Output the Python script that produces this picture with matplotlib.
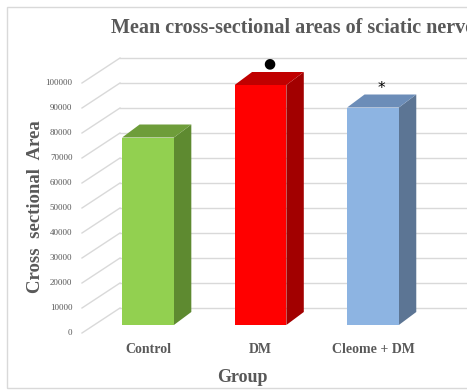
import matplotlib
matplotlib.use("Agg")
import matplotlib.pyplot as plt
from matplotlib.patches import Polygon, Rectangle

# Data
groups = ["Control", "DM", "Cleome + DM"]
mean_area = [75000, 96000, 87000]
markers = ["", "\u25CF", "*"]
tick_values = [0, 10000, 20000, 30000, 40000, 50000, 60000, 70000, 80000, 90000, 100000]

front_colors = ["#92D050", "#FF0000", "#8DB4E2"]
top_colors = ["#6E9D3A", "#C00000", "#6C8DB8"]
side_colors = ["#5E8A30", "#A20000", "#5C7594"]

W, H, DPI = 467, 390, 100
fig = plt.figure(figsize=(W / DPI, H / DPI), dpi=DPI)
ax = fig.add_axes([0, 0, 1, 1])
ax.set_xlim(-1.316, 2.836)
ax.set_ylim(-26000, 130000)
ax.axis("off")

serif = "Liberation Serif"
grey = "#595959"

# oblique projection offsets (x in category units, y in value units)
bar_w = 0.46
bar_depth = (0.155, 5200)
wall_front = (-0.587, -3200)
wall_back = (-0.249, 6800)

# chart frame
ax.add_patch(Rectangle((0.015, 0.005), 1.2, 0.977, transform=ax.transAxes,
                       fill=False, edgecolor="#D9D9D9", lw=1.0, clip_on=False))

# wall gridlines and tick labels
for v in tick_values:
    ax.plot([wall_front[0], wall_back[0]], [v + wall_front[1], v + wall_back[1]],
            color="#D9D9D9", lw=1.0, zorder=1)
    ax.plot([wall_back[0], 3.0], [v + wall_back[1], v + wall_back[1]],
            color="#D9D9D9", lw=1.0, zorder=1)
    ax.text(wall_front[0] - 0.085, v + wall_front[1], str(v), ha="right", va="center",
            fontsize=6.5, family=serif, color=grey)

# 3D bars
for i, (val, fc, tc, sc) in enumerate(zip(mean_area, front_colors, top_colors, side_colors)):
    x0, x1 = i - bar_w / 2, i + bar_w / 2
    dx, dy = bar_depth
    ax.add_patch(Polygon([(x1, 0), (x1 + dx, dy), (x1 + dx, val + dy), (x1, val)],
                         closed=True, facecolor=sc, edgecolor="none", zorder=3))
    ax.add_patch(Polygon([(x0, val), (x1, val), (x1 + dx, val + dy), (x0 + dx, val + dy)],
                         closed=True, facecolor=tc, edgecolor="none", zorder=3))
    ax.add_patch(Rectangle((x0, 0), bar_w, val, facecolor=fc, edgecolor="none", zorder=4))
    if markers[i] == "*":
        ax.text(i + dx / 2, val + dy + 2300, markers[i], ha="center", va="center",
                fontsize=11, color="black", family="DejaVu Sans", zorder=5)
    elif markers[i]:
        ax.text(i + dx / 2, val + dy + 3500, markers[i], ha="center", va="center",
                fontsize=10, color="black", family="DejaVu Sans", zorder=5)
    ax.text(i, -9800, groups[i], ha="center", va="center", fontsize=10,
            fontweight="bold", family=serif, color=grey)

# titles
ax.text(-0.33, 118800, "Mean cross-sectional areas of sciatic nerve", ha="left", va="center",
        fontsize=14.5, fontweight="bold", family=serif, color=grey, clip_on=False)
ax.text(-1.0, 47200, "Cross  sectional  Area", rotation=90, ha="center", va="center",
        fontsize=13.5, fontweight="bold", family=serif, color=grey)
ax.text(0.84, -21000, "Group", ha="center", va="center", fontsize=13,
        fontweight="bold", family=serif, color=grey)

fig.savefig("out.png", dpi=DPI)
